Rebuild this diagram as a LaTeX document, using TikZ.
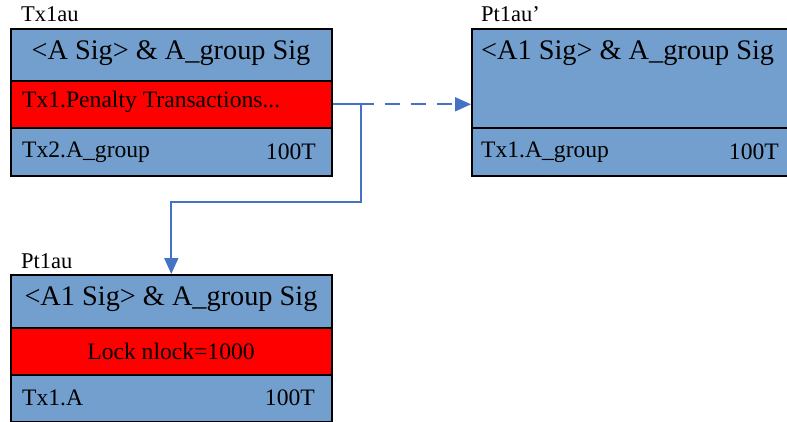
\documentclass[tikz,border=0pt]{standalone}
\usepackage{fontspec}
\setmainfont{Liberation Serif}
\usetikzlibrary{arrows.meta}
\definecolor{boxblue}{HTML}{739FCE}
\definecolor{linkblue}{HTML}{4472C4}
\definecolor{rowred}{HTML}{FF0000}
\begin{document}
\begin{tikzpicture}[x=1pt,y=-1pt,
  rowbox/.style={draw=black, line width=1.6pt, rectangle, inner sep=0pt, anchor=north west, minimum width=321pt},
  bluerow/.style={rowbox, fill=boxblue},
  redrow/.style={rowbox, fill=rowred},
  titletxt/.style={font=\fontsize{28.3}{30}\selectfont, inner sep=0pt},
  bodytxt/.style={font=\fontsize{23.6}{25}\selectfont, inner sep=0pt},
  labeltxt/.style={font=\fontsize{22.5}{24}\selectfont, inner sep=0pt, anchor=base west},
  link/.style={draw=linkblue, line width=1.8pt},
  tip/.style={-{Triangle[length=16pt,width=14pt]}}
]
\useasboundingbox (0,0) rectangle (787,422);
\clip (0,0) rectangle (787,422);

% Box Tx1au
\node[bluerow, minimum height=52pt] (a1) at (10,28) {};
\node[redrow, minimum height=47pt] (a2) at (10,80) {};
\node[bluerow, minimum height=48pt] (a3) at (10,127) {};
\node[titletxt] (a1t) at (171,53) {<A Sig> \& A\_group Sig};
\node[bodytxt, anchor=west] (a2t) at (22,102) {Tx1.Penalty Transactions...};
\node[bodytxt, anchor=west] (a3t) at (22,152) {Tx2.A\_group};
\node[bodytxt, anchor=east] (a3v) at (316,152) {100T};
\node[labeltxt] (a0) at (21,22) {Tx1au};

% Box Pt1au'
\node[bluerow, minimum width=340pt, minimum height=99pt] (b1) at (471,28) {};
\node[bluerow, minimum width=340pt, minimum height=48pt] (b3) at (471,127) {};
\node[titletxt, anchor=west] (b1t) at (481,53) {<A1 Sig> \& A\_group Sig};
\node[bodytxt, anchor=west] (b3t) at (481,152) {Tx1.A\_group};
\node[bodytxt, anchor=east] (b3v) at (779,152) {100T};
\node[labeltxt] (b0) at (481,22) {Pt1au’};

% Box Pt1au
\node[bluerow, minimum height=53pt] (c1) at (10,274) {};
\node[redrow, minimum height=47pt] (c2) at (10,327) {};
\node[bluerow, minimum height=47pt] (c3) at (10,374) {};
\node[titletxt] (c1t) at (171,299) {<A1 Sig> \& A\_group Sig};
\node[bodytxt] (c2t) at (171,351) {Lock nlock=1000};
\node[bodytxt, anchor=west] (c3t) at (22,398) {Tx1.A};
\node[bodytxt, anchor=east] (c3v) at (315,398) {100T};
\node[labeltxt] (c0) at (21,268) {Pt1au};

% connectors
\coordinate (k) at (361,202);
\draw[link, tip, dash pattern=on 15pt off 11pt] (a2.east) -- (a2.east -| b1.west);
\draw[link, tip] (a2.east) -| (k) -| (c1.north);
\end{tikzpicture}
\end{document}
